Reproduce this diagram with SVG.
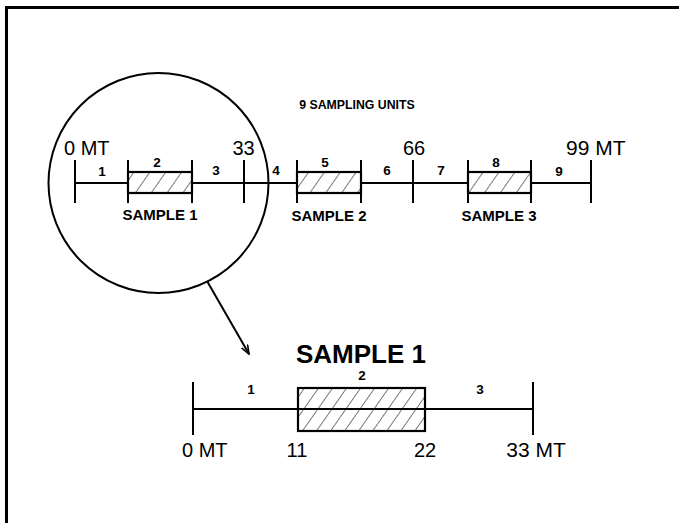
<svg xmlns="http://www.w3.org/2000/svg" width="679" height="523" viewBox="0 0 679 523">
  <style>
    .ln { stroke: #000; stroke-width: 2; fill: none; }
    .box { stroke: #000; stroke-width: 2.2; }
    .big { font-family: "Liberation Sans", Arial, sans-serif; font-size: 20px; fill: #000; }
    .sm { font-family: "Liberation Sans", Arial, sans-serif; font-size: 13.5px; font-weight: bold; fill: #000; text-anchor: middle; }
    .smp { font-family: "Liberation Sans", Arial, sans-serif; font-size: 15px; font-weight: bold; fill: #000; text-anchor: middle; }
  </style>
  <defs>
    <pattern id="hatchS" patternUnits="userSpaceOnUse" width="13" height="13" patternTransform="rotate(35)">
      <rect width="13" height="13" fill="#fff"/>
      <line x1="0" y1="-1" x2="0" y2="14" stroke="#222" stroke-width="1.2"/>
    </pattern>
    <pattern id="hatchL" patternUnits="userSpaceOnUse" width="11.5" height="11.5" patternTransform="rotate(35)">
      <rect width="11.5" height="11.5" fill="#fff"/>
      <line x1="0" y1="-1" x2="0" y2="13" stroke="#222" stroke-width="1.2"/>
    </pattern>
    <marker id="arr" markerWidth="10" markerHeight="8" refX="9" refY="4" orient="auto" markerUnits="userSpaceOnUse">
      <path d="M0,0.5 L9,4 L0,7.5" fill="none" stroke="#000" stroke-width="1.6"/>
    </marker>
  </defs>
  <rect width="679" height="523" fill="#fff"/>

  <g id="frame">
    <path d="M6.5,530 V7.5 H690" fill="none" stroke="#000" stroke-width="3"/>
  </g>

  <g id="title">
    <text x="357" y="109" class="sm" style="font-size:12.3px">9 SAMPLING UNITS</text>
  </g>

  <g id="scale">
    <line class="ln" x1="75" y1="183" x2="591" y2="183"/>
    <line class="ln" x1="75" y1="160" x2="75" y2="203"/>
    <line class="ln" x1="244" y1="160" x2="244" y2="203"/>
    <line class="ln" x1="413" y1="160" x2="413" y2="203"/>
    <line class="ln" x1="591" y1="160" x2="591" y2="203"/>
    <text x="64" y="155" class="big">0 MT</text>
    <text x="243.5" y="155" class="big" text-anchor="middle">33</text>
    <text x="414" y="155" class="big" text-anchor="middle">66</text>
    <text x="566" y="155" class="big" style="font-size:21px">99 MT</text>
    <text x="102" y="176" class="sm">1</text>
    <text x="157" y="167" class="sm">2</text>
    <text x="216" y="175" class="sm">3</text>
    <text x="276" y="175" class="sm">4</text>
    <text x="325" y="167" class="sm">5</text>
    <text x="387" y="175" class="sm">6</text>
    <text x="441" y="175" class="sm">7</text>
    <text x="496" y="167" class="sm">8</text>
    <text x="559" y="176" class="sm">9</text>
  </g>

  <g id="sample1">
    <rect x="128" y="172" width="64" height="21" fill="url(#hatchS)" class="box"/>
    <line class="ln" x1="128" y1="160" x2="128" y2="203"/>
    <line class="ln" x1="192" y1="160" x2="192" y2="203"/>
    <text x="160" y="220" class="smp">SAMPLE 1</text>
  </g>
  <g id="sample2">
    <rect x="297" y="172" width="64" height="21" fill="url(#hatchS)" class="box"/>
    <line class="ln" x1="297" y1="160" x2="297" y2="203"/>
    <line class="ln" x1="361" y1="160" x2="361" y2="203"/>
    <text x="329" y="221" class="smp">SAMPLE 2</text>
  </g>
  <g id="sample3">
    <rect x="468" y="172" width="63" height="21" fill="url(#hatchS)" class="box"/>
    <line class="ln" x1="468" y1="160" x2="468" y2="203"/>
    <line class="ln" x1="531" y1="160" x2="531" y2="203"/>
    <text x="499" y="221" class="smp">SAMPLE 3</text>
  </g>

  <g id="magnifier">
    <circle cx="158.5" cy="183" r="110" fill="none" stroke="#000" stroke-width="2"/>
  </g>

  <g id="connectors">
    <line x1="207" y1="281" x2="249" y2="354" stroke="#000" stroke-width="2" marker-end="url(#arr)"/>
  </g>

  <g id="detail">
    <text x="361" y="363" font-family="Liberation Sans, Arial, sans-serif" font-size="26" font-weight="bold" text-anchor="middle">SAMPLE 1</text>
    <rect x="298" y="388" width="127" height="43" fill="url(#hatchL)" class="box"/>
    <line class="ln" x1="193" y1="409" x2="533" y2="409"/>
    <line class="ln" x1="193" y1="382" x2="193" y2="435"/>
    <line class="ln" x1="533" y1="382" x2="533" y2="435"/>
    <text x="251" y="394" class="sm">1</text>
    <text x="362" y="380" class="sm">2</text>
    <text x="480" y="394" class="sm">3</text>
    <text x="182" y="457" class="big">0 MT</text>
    <text x="297" y="457" class="big" text-anchor="middle">11</text>
    <text x="425" y="457" class="big" text-anchor="middle">22</text>
    <text x="536" y="457" class="big" text-anchor="middle" style="font-size:21px">33 MT</text>
  </g>
</svg>
